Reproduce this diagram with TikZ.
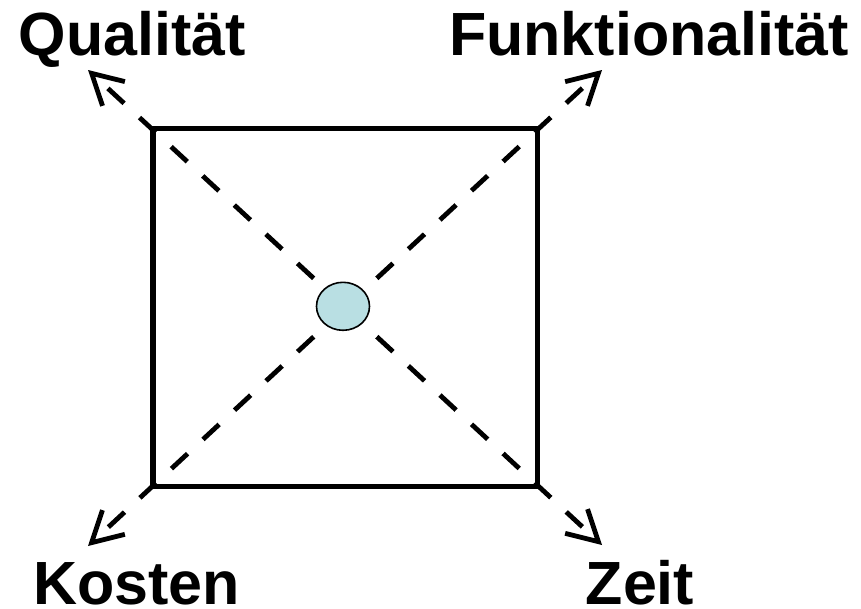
\documentclass[tikz,border=0pt]{standalone}
\usepackage{fontspec}
\setmainfont{Liberation Sans}
\usetikzlibrary{arrows.meta,shapes.geometric}
\definecolor{dotfill}{HTML}{B9DFE3}
\tikzset{
  lbl/.style={font=\fontsize{61}{70}\selectfont\bfseries, inner sep=0pt, anchor=base},
  frame/.style={draw=black, line width=5.4pt},
  ray/.style={draw=black, line width=4.8pt, dash pattern=on 22pt off 21pt,
    -{Straight Barb[length=30pt,width=33pt]}},
  dot/.style={ellipse, draw=black, line width=1.6pt, fill=dotfill,
    minimum width=53pt, minimum height=48pt, inner sep=0pt}
}
\begin{document}
\begin{tikzpicture}[x=1pt,y=-1pt]
\useasboundingbox (0,0) rectangle (861,608);
\node[minimum width=384.5pt, minimum height=358pt, inner sep=0pt, frame] (sq) at (345.25,307.5) {};
\coordinate (c) at (345.25,307.5);
\coordinate (tq) at (88,70);
\coordinate (tf) at (602,70);
\coordinate (tk) at (88,546);
\coordinate (tz) at (602,545);
\draw[ray] (c) -- (tq);
\draw[ray] (c) -- (tf);
\draw[ray] (c) -- (tk);
\draw[ray] (c) -- (tz);
\node[dot] (d) at (343,306.3) {};
\node[lbl] (q) at (132.5,55) {Qualität};
\node[lbl] (f) at (649,55) {Funktionalität};
\node[lbl] (k) at (136.5,604) {Kosten};
\node[lbl] (z) at (640,604) {Zeit};
\end{tikzpicture}
\end{document}
